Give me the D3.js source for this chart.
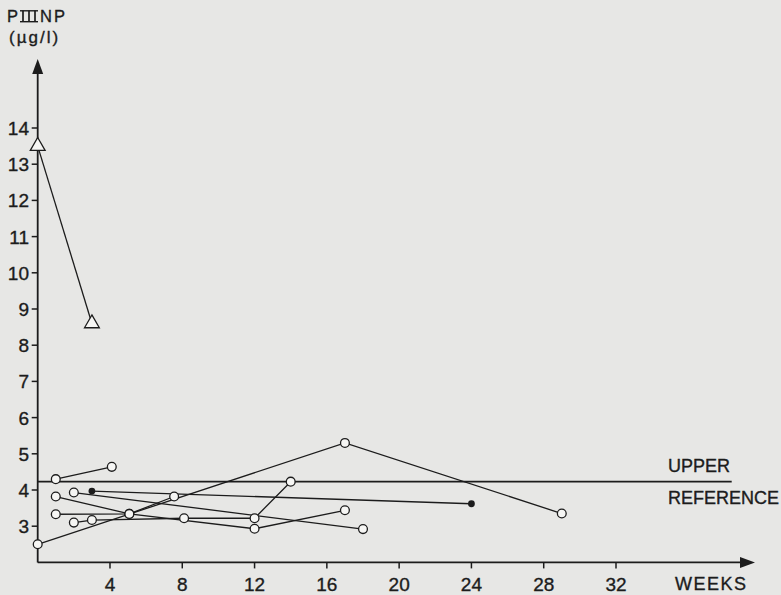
<!DOCTYPE html>
<html>
<head>
  <meta charset="utf-8">
  <script src="https://d3js.org/d3.v7.min.js"></script>
  <style>
    body { margin: 0; background: #e7e7e5; }
    svg { display: block; }
    text { font-family: "Liberation Sans", Arial, sans-serif; fill: #1c1c1c; stroke: #1c1c1c; stroke-width: 0.35px; }
  </style>
</head>
<body>
<script>
  // weeks, PIIINP value (ug/l) per patient
  var patientA = [[0, 2.5], [17, 5.3], [29, 3.35]];
  var patientB = [[1, 4.3], [4.1, 4.64]];
  var patientC = [[3, 3.97], [24, 3.62]];          // filled dots
  var patientD = [[2, 3.93], [18, 2.92]];
  var patientE = [[1, 3.82], [5.07, 3.34], [12, 2.93], [17, 3.44]];
  var patientF = [[1, 3.33], [5.07, 3.34], [7.55, 3.82]];
  var patientG = [[2, 3.1], [3, 3.17], [8.1, 3.22], [12, 3.22], [14, 4.23]];
  var patientT = [[0, 13.5], [3, 8.6]];           // triangles
  var upperReference = 4.23;

  var xTicks = [4, 8, 12, 16, 20, 24, 28, 32];
  var yTicks = [3, 4, 5, 6, 7, 8, 9, 10, 11, 12, 13, 14];

  var openSeries = [patientA, patientB, patientD, patientE, patientF, patientG];

  var W = 781, H = 595;
  var svg = d3.select("body").append("svg").attr("width", W).attr("height", H);

  var x = d3.scaleLinear().domain([0, 32]).range([37.7, 616]);
  var y = d3.scaleLinear().domain([2, 14]).range([562.4, 128]);

  var ink = "#1c1c1c";
  var axisEndX = 755, axisTopY = 59;

  // axes lines
  svg.append("line")
    .attr("x1", x(0)).attr("x2", axisEndX - 12)
    .attr("y1", y(2)).attr("y2", y(2))
    .style("stroke", ink).style("stroke-width", 1.8);
  svg.append("line")
    .attr("x1", x(0)).attr("x2", x(0))
    .attr("y1", y(2)).attr("y2", axisTopY + 12)
    .style("stroke", ink).style("stroke-width", 1.8);

  // arrow heads
  svg.append("path")
    .attr("d", "M" + axisEndX + "," + y(2) + " l-15,-5.5 l0,11 z")
    .style("fill", ink);
  svg.append("path")
    .attr("d", "M" + x(0) + "," + axisTopY + " l-5.5,15 l11,0 z")
    .style("fill", ink);

  // x ticks + labels
  svg.selectAll(".xt").data(xTicks).enter().append("line")
    .attr("x1", d => x(d)).attr("x2", d => x(d))
    .attr("y1", y(2)).attr("y2", y(2) + 6)
    .style("stroke", ink).style("stroke-width", 1.5);
  svg.selectAll(".xl").data(xTicks).enter().append("text")
    .attr("x", d => x(d)).attr("y", 591)
    .attr("text-anchor", "middle")
    .style("font-size", "19px")
    .text(d => d);

  // y ticks + labels
  svg.selectAll(".yt").data(yTicks).enter().append("line")
    .attr("x1", x(0) - 6).attr("x2", x(0))
    .attr("y1", d => y(d)).attr("y2", d => y(d))
    .style("stroke", ink).style("stroke-width", 1.5);
  svg.selectAll(".yl").data(yTicks).enter().append("text")
    .attr("x", 29).attr("y", d => y(d) + 7)
    .attr("text-anchor", "end")
    .style("font-size", "19px")
    .text(d => d);

  // y title: P + roman III with bars + NP
  svg.append("text").attr("x", 7).attr("y", 22)
    .style("font-size", "16.5px").text("P");
  [23, 29, 35].forEach(function (bx) {
    svg.append("line").attr("x1", bx).attr("x2", bx).attr("y1", 10.5).attr("y2", 22)
      .style("stroke", ink).style("stroke-width", 1.7);
  });
  [10.8, 21.7].forEach(function (by) {
    svg.append("line").attr("x1", 20).attr("x2", 38).attr("y1", by).attr("y2", by)
      .style("stroke", ink).style("stroke-width", 1.4);
  });
  svg.append("text").attr("x", 40).attr("y", 22)
    .style("font-size", "16.5px").style("letter-spacing", "2px").text("NP");
  svg.append("text").attr("x", 9).attr("y", 43)
    .style("font-size", "17px").style("letter-spacing", "2px").text("(\u00b5g/l)");

  svg.append("text").attr("x", 675).attr("y", 590)
    .style("font-size", "18px").style("letter-spacing", "1.5px").text("WEEKS");

  // upper reference line
  svg.append("line")
    .attr("x1", x(0)).attr("x2", 731.7)
    .attr("y1", y(upperReference)).attr("y2", y(upperReference))
    .style("stroke", ink).style("stroke-width", 1.6);
  svg.append("text").attr("x", 668).attr("y", 471.7)
    .style("font-size", "18px").text("UPPER");
  svg.append("text").attr("x", 668).attr("y", 504)
    .style("font-size", "18px").text("REFERENCE");

  var line = d3.line().x(d => x(d[0])).y(d => y(d[1]));

  var allSeries = openSeries.concat([patientC, patientT]);
  svg.selectAll(".trend").data(allSeries).enter().append("path")
    .attr("d", line)
    .style("fill", "none").style("stroke", ink).style("stroke-width", 1.3);

  // open circles
  openSeries.forEach(function (s) {
    svg.selectAll(null).data(s).enter().append("circle")
      .attr("cx", d => x(d[0])).attr("cy", d => y(d[1]))
      .attr("r", 4.4)
      .style("fill", "#f6f6f4").style("stroke", ink).style("stroke-width", 1.3);
  });

  // filled dots
  svg.selectAll(null).data(patientC).enter().append("circle")
    .attr("cx", d => x(d[0])).attr("cy", d => y(d[1]))
    .attr("r", 3.4)
    .style("fill", ink);

  // triangles
  svg.selectAll(null).data(patientT).enter().append("path")
    .attr("d", d3.symbol().type(d3.symbolTriangle).size(95))
    .attr("transform", d => "translate(" + x(d[0]) + "," + y(d[1]) + ")")
    .style("fill", "#f6f6f4").style("stroke", ink).style("stroke-width", 1.3);
</script>
</body>
</html>
